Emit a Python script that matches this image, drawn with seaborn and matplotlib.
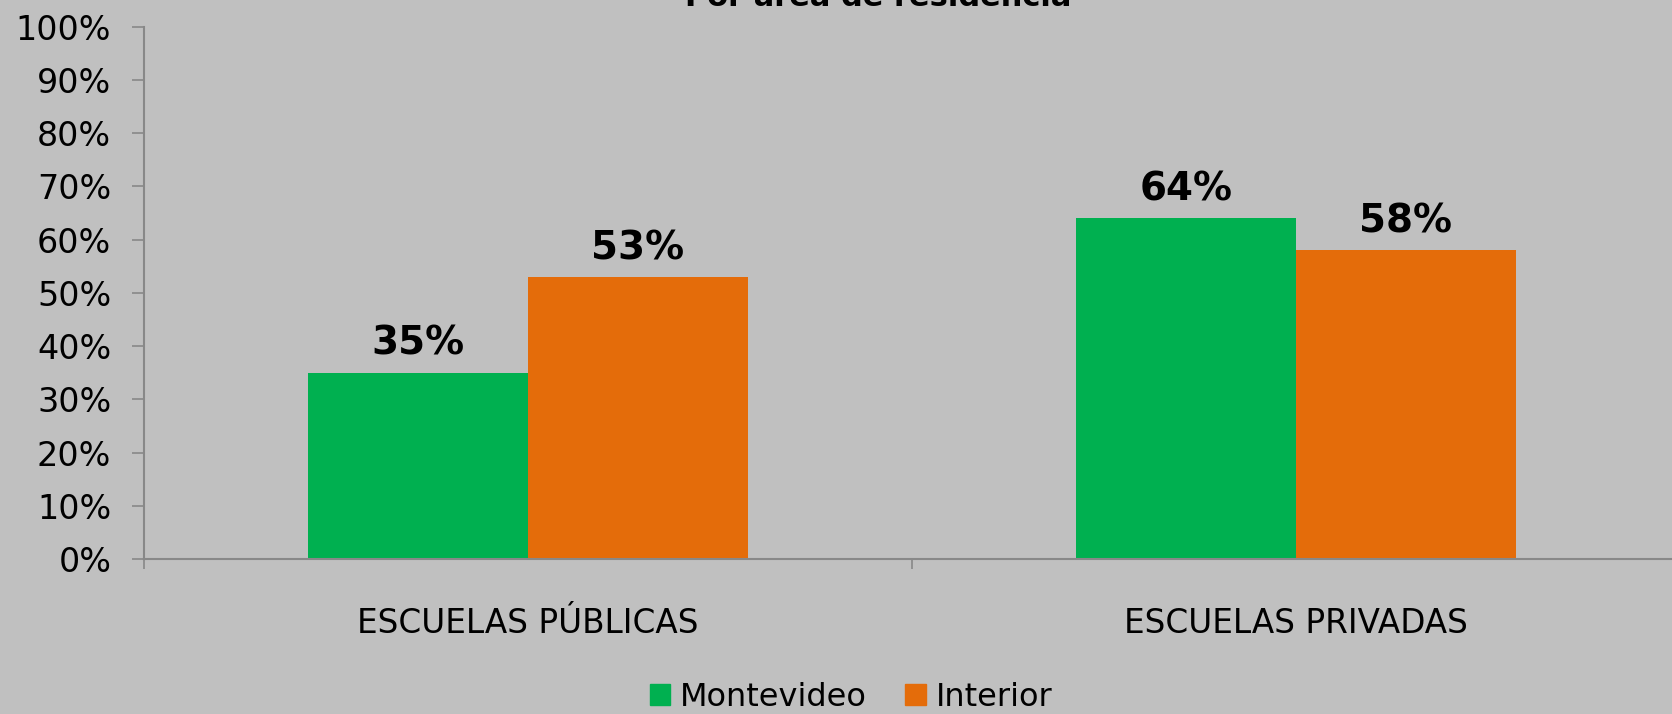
import pandas as pd
import matplotlib.pyplot as plt
import matplotlib.patches as mpatches
import matplotlib.ticker as mticker
import seaborn as sns

# datos
escuelas = ['ESCUELAS PÚBLICAS', 'ESCUELAS PRIVADAS']
areas = ['Montevideo', 'Interior']
montevideo = [35, 64]
interior = [53, 58]
colores = ['#00B050', '#E46C0A']
fondo = '#C0C0C0'

df = pd.DataFrame({
    'escuela': escuelas * 2,
    'area': [areas[0]] * 2 + [areas[1]] * 2,
    'valor': montevideo + interior,
})

sns.set_style('white')
plt.rcParams['font.family'] = ['DejaVu Sans']
plt.rcParams['text.color'] = 'black'

fig = plt.figure(figsize=(16.72, 7.14), dpi=100, facecolor=fondo)
ax = fig.add_axes([144 / 1672, 1 - 559 / 714, 1536 / 1672, (559 - 26.7) / 714])
ax.set_facecolor(fondo)

sns.barplot(data=df, x='escuela', y='valor', hue='area', palette=colores,
            width=0.572, saturation=1, linewidth=0, legend=False, ax=ax)

# etiquetas de valor
for cont in ax.containers:
    ax.bar_label(cont, fmt='{:.0f}%', padding=7, fontsize=28, fontweight='bold',
                 color='black')

ax.set_ylim(0, 100)
ax.set_xlim(-0.5, 1.5)
ax.yaxis.set_major_locator(mticker.MultipleLocator(10))
ax.yaxis.set_major_formatter(mticker.FormatStrFormatter('%d%%'))
ax.set_xlabel('')
ax.set_ylabel('')

for s in ['top', 'right']:
    ax.spines[s].set_visible(False)
for s in ['left', 'bottom']:
    ax.spines[s].set_color('#888888')
    ax.spines[s].set_linewidth(1.5)

ax.tick_params(axis='y', left=True, length=8.5, width=1.2, color='#888888',
               pad=15, labelsize=24, labelcolor='black')
ax.tick_params(axis='x', which='major', bottom=False, pad=31, labelsize=23.5,
               labelcolor='black')
ax.set_xticks([-0.5, 0.5, 1.5], minor=True)
ax.tick_params(axis='x', which='minor', bottom=True, length=7, width=1.2,
               color='#888888')

fig.text(878 / 1672, 1 - 6 / 714, 'Por área de residencia', ha='center',
         va='baseline', fontsize=22, fontweight='bold', color='black')

handles = [mpatches.Patch(color=c, label=a) for c, a in zip(colores, areas)]
fig.legend(handles=handles, loc='center', bbox_to_anchor=(851 / 1672, 1 - 697 / 714),
           ncol=2, frameon=False, fontsize=23, handlelength=0.65, handleheight=0.65,
           handletextpad=0.3, columnspacing=1.2, borderaxespad=0, labelcolor='black')

fig.savefig('out.png', dpi=100, facecolor=fondo)
